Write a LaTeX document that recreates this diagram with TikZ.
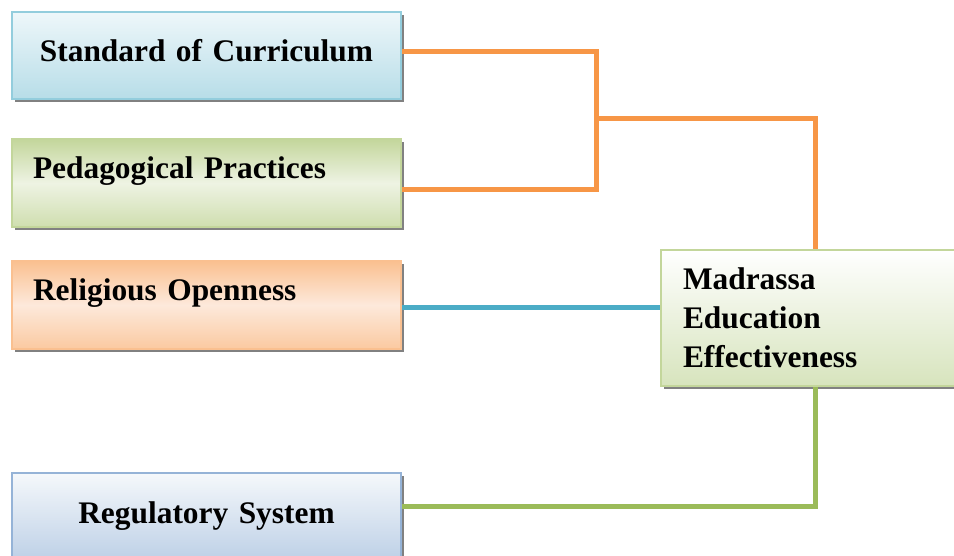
\documentclass[tikz,border=0pt]{standalone}
\usepackage{fontspec}
\setmainfont{Liberation Serif}
\usetikzlibrary{shadows}
\definecolor{curTop}{HTML}{EEF7FA}
\definecolor{curBot}{HTML}{B7DDE8}
\definecolor{curLine}{HTML}{93CDDD}
\definecolor{pedDark}{HTML}{C3D69B}
\definecolor{pedLight}{HTML}{EEF3E3}
\definecolor{relDark}{HTML}{FAC090}
\definecolor{relLight}{HTML}{FDE9DB}
\definecolor{regTop}{HTML}{F5F8FB}
\definecolor{regBot}{HTML}{B9CDE5}
\definecolor{regLine}{HTML}{95B3D7}
\definecolor{madBot}{HTML}{D7E4BD}
\definecolor{orangeLink}{HTML}{F79646}
\definecolor{blueLink}{HTML}{4BACC6}
\definecolor{greenLink}{HTML}{9BBB59}

\begin{document}
\begin{tikzpicture}[x=0.5pt,y=-0.5pt,
	box/.style={draw,line width=1pt,anchor=north west,inner ysep=0pt,inner xsep=10.5pt,
		text width=173.5pt,font=\bfseries\fontsize{15.7}{19.5}\selectfont,
		drop shadow={shadow xshift=1.5pt,shadow yshift=-1.5pt,fill=black!70,opacity=.7}},
	link/.style={line width=2.5pt}]
	\useasboundingbox (0,0) rectangle (954,556);
	\node[box,align=center,text height=24.75pt,text depth=18.75pt,draw=curLine,top color=curTop,bottom color=curBot] (cur) at (11,11) {Standard of Curriculum};
	\node[box,align=left,text height=19.5pt,text depth=24.5pt,draw=pedDark,top color=pedDark,bottom color=pedDark!80,middle color=pedLight] (ped) at (11,138) {Pedagogical Practices};
	\node[box,align=left,text height=19.5pt,text depth=24.5pt,draw=relDark,top color=relDark,bottom color=relDark!85,middle color=relLight] (rel) at (11,260) {Religious Openness};
	\node[box,align=center,text height=25pt,text depth=22pt,draw=regLine,top color=regTop,bottom color=regBot] (reg) at (11,472) {Regulatory System};
	\node[box,align=left,text width=138pt,inner xsep=11pt,minimum height=68pt,draw=pedDark,top color=white,bottom color=madBot] (mad) at (660,249) {Madrassa\\Education\\Effectiveness};
	\coordinate (j1) at (596,119);
	\coordinate (j2) at (815,119);
	\draw[link,orangeLink] (cur.east |- 0,52) -| (j1) |- (ped.east |- 0,190);
	\draw[link,orangeLink] (j1) -- (j2) -- (j2 |- mad.north);
	\draw[link,blueLink] ([yshift=-1pt]rel.east) -- ([yshift=-1pt]rel.east -| mad.west);
	\draw[link,greenLink] (j2 |- mad.south) |- (reg.east |- 0,506);
\end{tikzpicture}
\end{document}
